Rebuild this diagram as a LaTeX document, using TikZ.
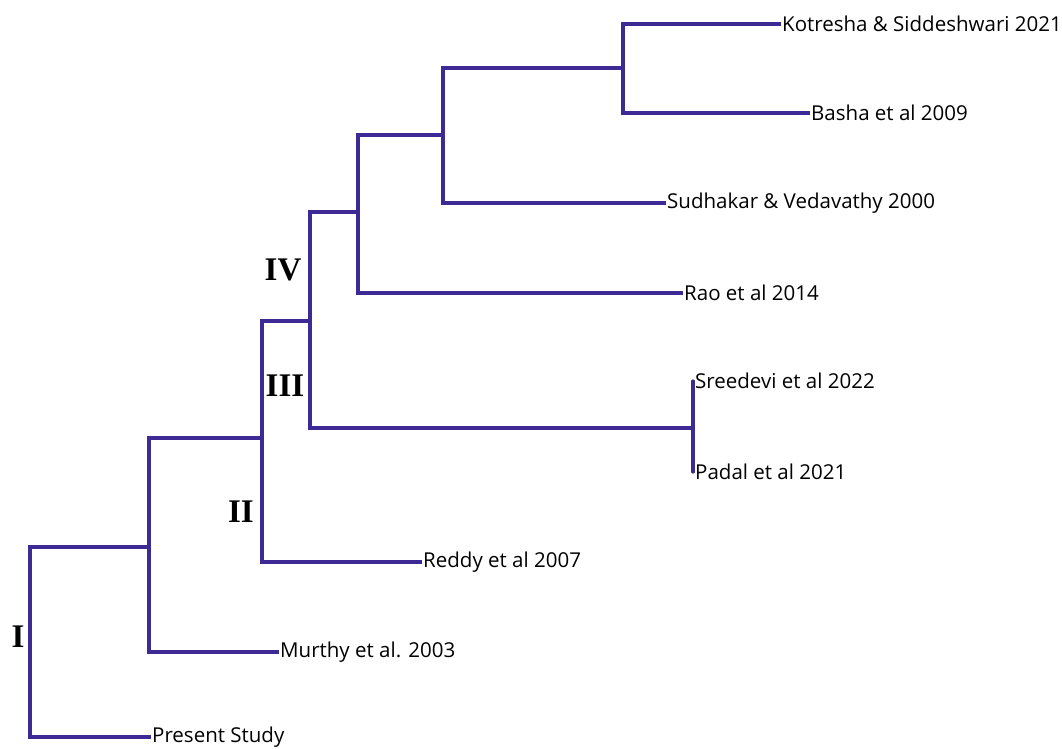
\documentclass[tikz,border=0pt]{standalone}
\usepackage{fontspec}
\setmainfont{Open Sans}
\newfontfamily\romanfont{Liberation Serif}
\usetikzlibrary{calc}
\definecolor{treeblue}{RGB}{62,42,148}
\tikzset{
  branch/.style={line width=3.2pt, color=treeblue},
  leaf/.style={anchor=west, inner sep=1pt, font=\fontsize{20.5}{22}\selectfont},
  clade/.style={inner sep=0pt, font=\romanfont\bfseries\fontsize{33}{36}\selectfont}
}

\begin{document}
\begin{tikzpicture}[x=1pt, y=-1pt]
			%%%%% START %%%%%
			\useasboundingbox (0, 0) rectangle (1062, 748);
			
			% junctions
			\coordinate (root) at (30, 643);
			\coordinate (nA) at (149, 547);
			\coordinate (nB) at (262, 438);
			\coordinate (nC) at (310, 321);
			\coordinate (nD) at (358, 212);
			\coordinate (nE) at (443, 135);
			\coordinate (nF) at (623, 68);
			\coordinate (nG) at (693, 428);
			
			% leaves
			\node[leaf] (kotresha) at (781, 24) {Kotresha \& Siddeshwari 2021};
			\node[leaf] (basha) at (810, 113) {Basha et al 2009};
			\node[leaf] (sudhakar) at (666, 203) {Sudhakar \& Vedavathy 2000};
			\node[leaf] (rao) at (683, 293) {Rao et al 2014};
			\node[leaf] (sreedevi) at (694, 381) {Sreedevi et al 2022};
			\node[leaf] (padal) at (694, 472) {Padal et al 2021};
			\node[leaf] (reddy) at (422, 562) {Reddy et al 2007};
			\node[leaf] (murthy) at (279, 652) {Murthy et al. 2003};
			\node[leaf] (present) at (151, 737) {Present Study};
			
			% clade labels
			\node[clade] (cI) at (18, 637) {I};
			\node[clade] (cII) at (241, 512) {II};
			\node[clade] (cIII) at (285, 386) {III};
			\node[clade] (cIV) at (283, 270) {IV};
			
			% branches
			\draw[branch] (present.west) -| (root) |- (nA);
			\draw[branch] (murthy.west) -| (nA) |- (nB);
			\draw[branch] (reddy.west) -| (nB) |- (nC);
			\draw[branch] (nG) -| (nC) |- (nD);
			\draw[branch] (rao.west) -| (nD) |- (nE);
			\draw[branch] (sudhakar.west) -| (nE) |- (nF);
			\draw[branch] (basha.west) -| (nF) |- (kotresha.west);
			\draw[branch, line cap=round] (nG |- sreedevi.west) -- (nG |- padal.west);
			
			%%%%% END %%%%%
\end{tikzpicture}
\end{document}
